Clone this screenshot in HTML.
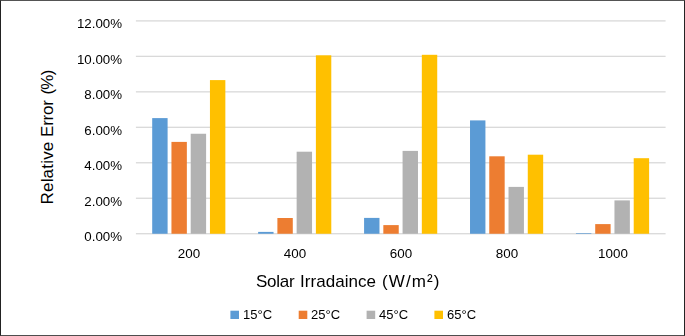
<!DOCTYPE html>
<html><head><meta charset="utf-8"><title>chart</title>
<style>
html,body{margin:0;padding:0;background:#fff;}
body{width:685px;height:336px;position:relative;overflow:hidden;font-family:"Liberation Sans",sans-serif;color:#000;}
.frame{position:absolute;left:0;top:0;width:683px;height:334px;border-left:1px solid #222;border-right:1px solid #242424;border-top:1px solid #545454;border-bottom:1px solid #4e4e4e;}
.plot{position:absolute;left:0;top:0;}
.yl,.xl,.xt,.lt{will-change:transform;}
.yl{position:absolute;left:59.9px;width:62px;text-align:right;font-size:13.3px;line-height:14px;height:14px;white-space:nowrap;}
.xl{position:absolute;width:60px;text-align:center;font-size:13.4px;line-height:14px;height:14px;top:246.5px;white-space:nowrap;}
.xt{position:absolute;top:271.6px;font-size:17px;line-height:20px;height:20px;white-space:nowrap;}
.yt{position:absolute;left:37.9px;top:202.9px;width:0;height:0;transform-origin:0 0;transform:rotate(-90deg);}
.yt span{position:absolute;top:0;height:20px;line-height:20px;font-size:17px;white-space:nowrap;display:block;}
.lt{position:absolute;top:308px;font-size:13px;line-height:14px;height:14px;white-space:nowrap;}
</style></head><body>
<div class="frame"></div>
<svg class="plot" width="685" height="336" viewBox="0 0 685 336">
<rect x="135.9" y="20.25" width="529.7" height="1.3" fill="#d9d9d9"/>
<rect x="135.9" y="55.72" width="529.7" height="1.3" fill="#d9d9d9"/>
<rect x="135.9" y="91.19" width="529.7" height="1.3" fill="#d9d9d9"/>
<rect x="135.9" y="126.66" width="529.7" height="1.3" fill="#d9d9d9"/>
<rect x="135.9" y="162.13" width="529.7" height="1.3" fill="#d9d9d9"/>
<rect x="135.9" y="197.60" width="529.7" height="1.3" fill="#d9d9d9"/>
<rect x="135.9" y="233.07" width="529.7" height="1.3" fill="#d9d9d9"/>
<rect x="152.20" y="118.10" width="15.40" height="115.65" fill="#5b9bd5"/>
<rect x="171.45" y="141.90" width="15.40" height="91.85" fill="#ed7d31"/>
<rect x="190.70" y="133.75" width="15.40" height="100.00" fill="#b2b2b2"/>
<rect x="209.95" y="80.10" width="15.40" height="153.65" fill="#ffc000"/>
<rect x="258.14" y="231.90" width="15.40" height="1.85" fill="#5b9bd5"/>
<rect x="277.39" y="218.00" width="15.40" height="15.75" fill="#ed7d31"/>
<rect x="296.64" y="151.70" width="15.40" height="82.05" fill="#b2b2b2"/>
<rect x="315.89" y="55.30" width="15.40" height="178.45" fill="#ffc000"/>
<rect x="364.08" y="217.90" width="15.40" height="15.85" fill="#5b9bd5"/>
<rect x="383.33" y="225.10" width="15.40" height="8.65" fill="#ed7d31"/>
<rect x="402.58" y="150.90" width="15.40" height="82.85" fill="#b2b2b2"/>
<rect x="421.83" y="54.80" width="15.40" height="178.95" fill="#ffc000"/>
<rect x="470.02" y="120.40" width="15.40" height="113.35" fill="#5b9bd5"/>
<rect x="489.27" y="156.30" width="15.40" height="77.45" fill="#ed7d31"/>
<rect x="508.52" y="186.90" width="15.40" height="46.85" fill="#b2b2b2"/>
<rect x="527.77" y="154.70" width="15.40" height="79.05" fill="#ffc000"/>
<rect x="575.96" y="233.10" width="15.40" height="0.65" fill="#5b9bd5"/>
<rect x="595.21" y="224.10" width="15.40" height="9.65" fill="#ed7d31"/>
<rect x="614.46" y="200.40" width="15.40" height="33.35" fill="#b2b2b2"/>
<rect x="633.71" y="158.20" width="15.40" height="75.55" fill="#ffc000"/>
<rect x="230.40" y="310.7" width="8.6" height="8.3" fill="#5b9bd5"/>
<rect x="298.70" y="310.7" width="8.6" height="8.3" fill="#ed7d31"/>
<rect x="366.60" y="310.7" width="8.6" height="8.3" fill="#b2b2b2"/>
<rect x="434.40" y="310.7" width="8.6" height="8.3" fill="#ffc000"/>
</svg>
<div class="yl" style="top:17.20px">12.00%</div>
<div class="yl" style="top:52.67px">10.00%</div>
<div class="yl" style="top:88.14px">8.00%</div>
<div class="yl" style="top:123.61px">6.00%</div>
<div class="yl" style="top:159.08px">4.00%</div>
<div class="yl" style="top:194.55px">2.00%</div>
<div class="yl" style="top:230.02px">0.00%</div>
<div class="xl" style="left:158.87px">200</div>
<div class="xl" style="left:264.81px">400</div>
<div class="xl" style="left:370.75px">600</div>
<div class="xl" style="left:476.69px">800</div>
<div class="xl" style="left:582.63px">1000</div>
<div class="xt" style="left:256.2px;letter-spacing:-0.27px">Solar</div>
<div class="xt" style="left:300.4px;letter-spacing:0.04px">Irradaince</div>
<div class="xt" style="left:381.7px;letter-spacing:1.09px">(W/m&sup2;)</div>
<div class="yt"><span style="left:-1.5px;letter-spacing:0.2px">Relative</span><span style="left:66px;letter-spacing:-0.2px">Error</span><span style="left:108.5px;letter-spacing:-0.8px">(%)</span></div>
<div class="lt" style="left:243.0px">15&deg;C</div>
<div class="lt" style="left:310.8px">25&deg;C</div>
<div class="lt" style="left:378.7px">45&deg;C</div>
<div class="lt" style="left:446.5px">65&deg;C</div>
</body></html>
